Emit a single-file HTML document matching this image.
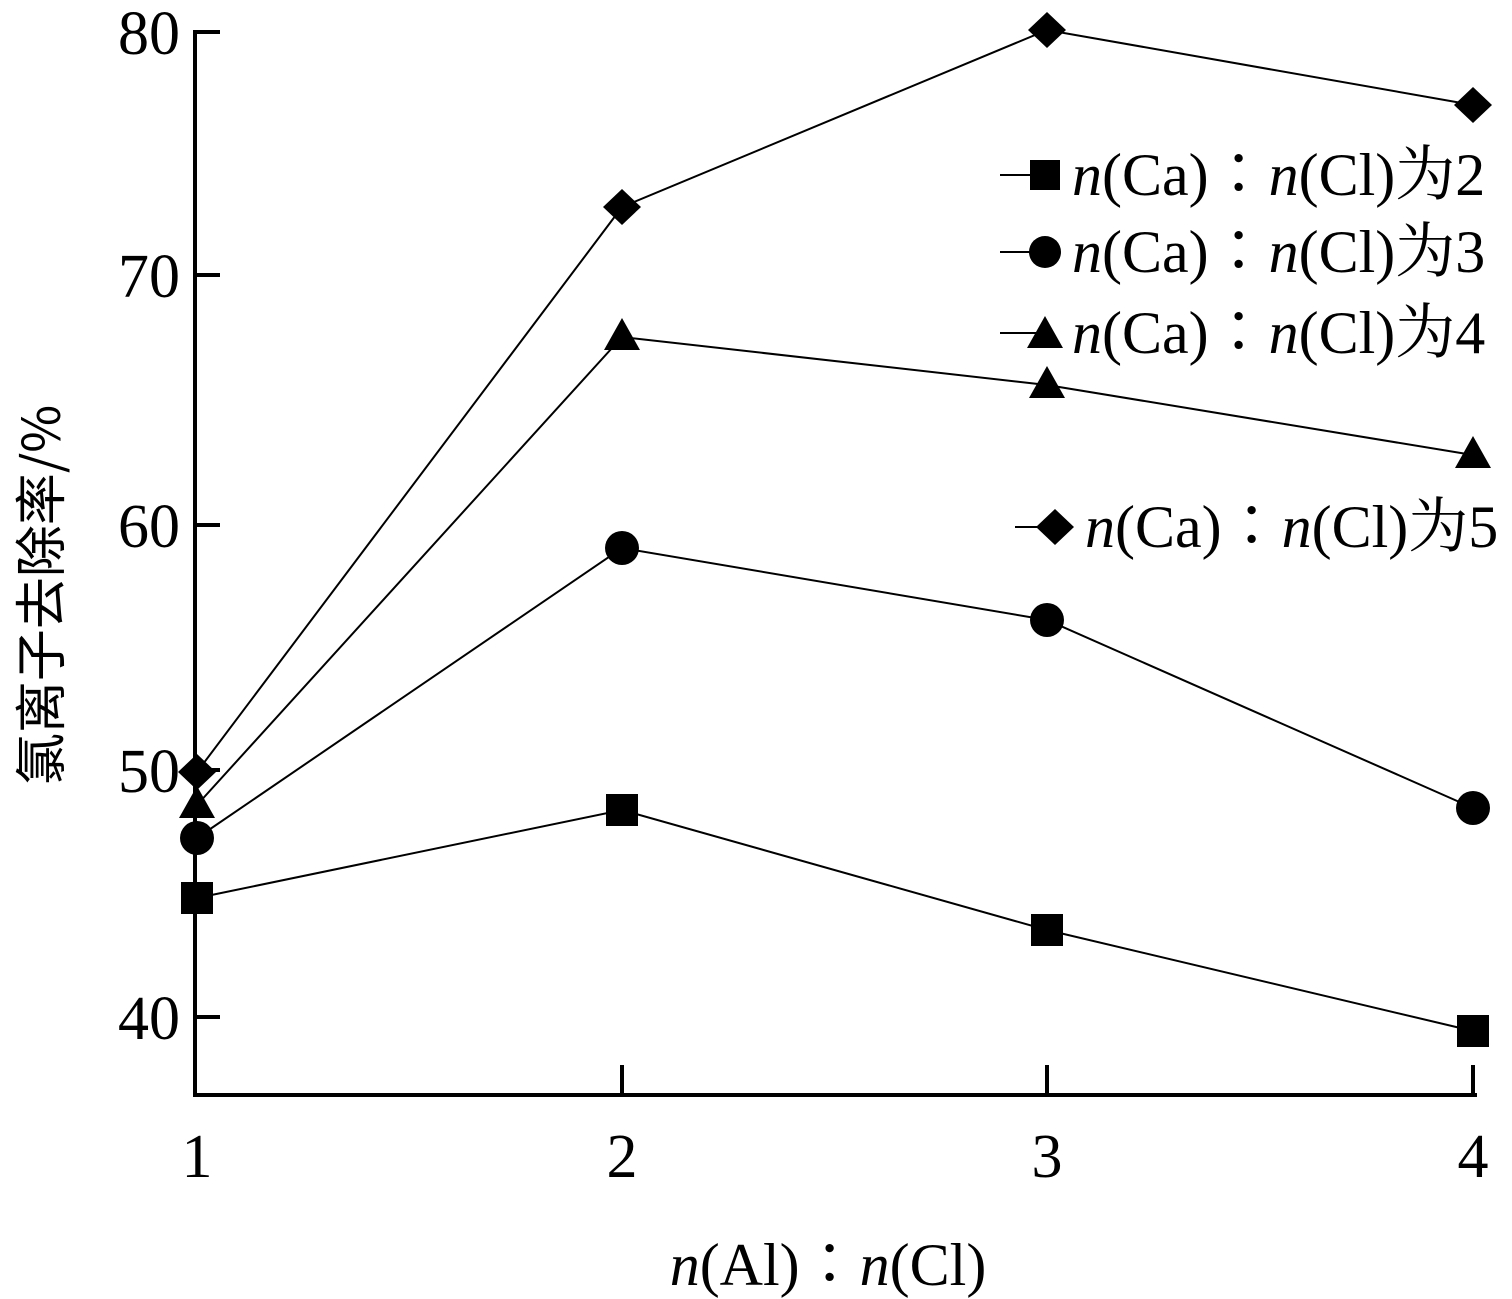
<!DOCTYPE html>
<html><head><meta charset="utf-8"><style>
html,body{margin:0;padding:0;background:#fff;}
svg{display:block;}
text{font-family:"Liberation Serif","Noto Serif CJK SC",serif;fill:#000;}
</style></head><body>
<svg width="1512" height="1299" viewBox="0 0 1512 1299" xmlns="http://www.w3.org/2000/svg">
<g stroke="#000" stroke-width="4" fill="none">
<line x1="195" y1="30" x2="195" y2="1097"/>
<line x1="193" y1="1095" x2="1477" y2="1095"/>
<line x1="195" y1="32" x2="220" y2="32"/>
<line x1="195" y1="275" x2="220" y2="275"/>
<line x1="195" y1="525" x2="220" y2="525"/>
<line x1="195" y1="770" x2="220" y2="770"/>
<line x1="195" y1="1017" x2="220" y2="1017"/>
<line x1="622" y1="1065" x2="622" y2="1095"/>
<line x1="1047" y1="1065" x2="1047" y2="1095"/>
<line x1="1473" y1="1065" x2="1473" y2="1095"/>
</g>
<g font-size="62" text-anchor="end">
<text x="180" y="54">80</text><text x="180" y="297">70</text><text x="180" y="547">60</text><text x="180" y="792">50</text><text x="180" y="1039">40</text>
</g>
<g font-size="62" text-anchor="middle">
<text x="197" y="1177">1</text><text x="622" y="1177">2</text><text x="1047" y="1177">3</text><text x="1473" y="1177">4</text>
</g>
<text x="828" y="1285" font-size="60" text-anchor="middle"><tspan font-style="italic">n</tspan>(Al)∶<tspan font-style="italic">n</tspan>(Cl)</text>
<text transform="translate(60,595) rotate(-90)" font-size="52" text-anchor="middle" style="font-family:'Noto Sans CJK SC','Liberation Sans',sans-serif">氯离子去除率/%</text>
<g stroke="#000" stroke-width="2" fill="none">
<polyline points="197,898 622,810 1047,930 1473,1031"/>
<polyline points="197,838 622,548 1047,620 1473,808"/>
<polyline points="197,805 622,337 1047,385 1473,455"/>
<polyline points="197,772 622,207 1047,30 1473,105"/>
</g>
<g fill="#000">
<rect x="181" y="882" width="32" height="32"/><rect x="606" y="794" width="32" height="32"/><rect x="1031" y="914" width="32" height="32"/><rect x="1457" y="1015" width="32" height="32"/>
<circle cx="197" cy="838" r="17"/><circle cx="622" cy="548" r="17"/><circle cx="1047" cy="620" r="17"/><circle cx="1473" cy="808" r="17"/>
<polygon points="197,786 215,818 179,818"/><polygon points="622,318 640,350 604,350"/><polygon points="1047,366 1065,398 1029,398"/><polygon points="1473,436 1491,468 1455,468"/>
<polygon points="197,754 216,772 197,790 178,772"/><polygon points="622,189 641,207 622,225 603,207"/><polygon points="1047,12 1066,30 1047,48 1028,30"/><polygon points="1473,87 1492,105 1473,123 1454,105"/>
</g>
<g stroke="#000" stroke-width="2">
<line x1="1000" y1="175" x2="1045" y2="175"/>
<line x1="1000" y1="252" x2="1045" y2="252"/>
<line x1="1000" y1="333" x2="1045" y2="333"/>
<line x1="1015" y1="527" x2="1055" y2="527"/>
</g>
<g fill="#000">
<rect x="1030" y="160" width="30" height="30"/>
<circle cx="1045" cy="252" r="16"/>
<polygon points="1045,316 1063,348 1027,348"/>
<polygon points="1055,509 1074,527 1055,545 1036,527"/>
</g>
<g font-size="60">
<text x="1072" y="195"><tspan font-style="italic">n</tspan>(Ca)∶<tspan font-style="italic">n</tspan>(Cl)为2</text>
<text x="1072" y="272"><tspan font-style="italic">n</tspan>(Ca)∶<tspan font-style="italic">n</tspan>(Cl)为3</text>
<text x="1072" y="353"><tspan font-style="italic">n</tspan>(Ca)∶<tspan font-style="italic">n</tspan>(Cl)为4</text>
<text x="1085" y="547"><tspan font-style="italic">n</tspan>(Ca)∶<tspan font-style="italic">n</tspan>(Cl)为5</text>
</g>
</svg>
</body></html>
